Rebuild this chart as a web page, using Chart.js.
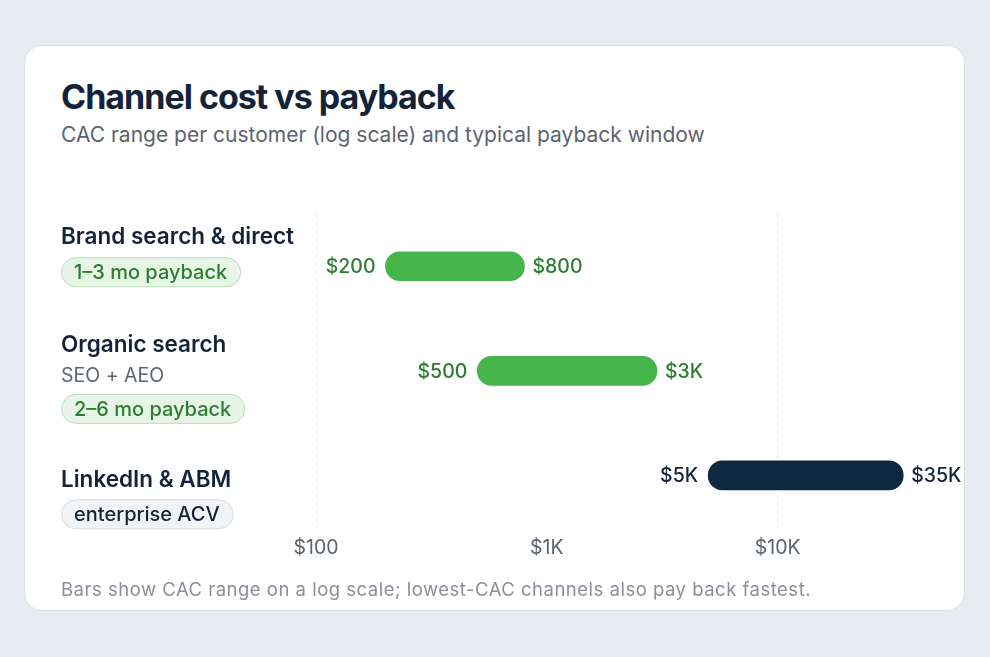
<!DOCTYPE html>
<html>
<head>
<meta charset="utf-8">
<script src="https://cdn.jsdelivr.net/npm/chart.js@4"></script>
<style>
  body { margin: 0; background: #e8ecf0; font-family: Inter, "Noto Sans", sans-serif; }
  .card { position: absolute; left: 24px; top: 45px; width: 939px; height: 564px;
          background: #fff; border: 1px solid #dde2e8; border-radius: 18px; }
  h1 { position: absolute; left: 36px; top: 30px; margin: 0; font-size: 34px; font-weight: 700;
       letter-spacing: -1px; color: #13233a; }
  .sub { position: absolute; left: 36px; top: 76px; font-size: 21px; color: #5b6470; }
  .foot { position: absolute; left: 36px; top: 532px; font-size: 18.5px; letter-spacing: 0.5px; color: #8a9099; }
  .wrap { position: absolute; left: 0; top: 125px; width: 941px; height: 415px; }
</style>
</head>
<body>
<div class="card">
  <h1>Channel cost vs payback</h1>
  <div class="sub">CAC range per customer (log scale) and typical payback window</div>
  <div class="wrap"><canvas id="chart"></canvas></div>
  <div class="foot">Bars show CAC range on a log scale; lowest-CAC channels also pay back fastest.</div>
</div>
<script>
// data
const channels = ['Brand search & direct', 'Organic search', 'LinkedIn & ABM'];
const cacLow = [200, 500, 5000];
const cacHigh = [800, 3000, 35000];
const channelNotes = ['', 'SEO + AEO', ''];
const paybackLabels = ['1–3 mo payback', '2–6 mo payback', 'enterprise ACV'];
const tickValues = [100, 1000, 10000];
const gridValues = [100, 10000];

const GREEN = '#45b54a', GREEN_TXT = '#2f7d32', NAVY = '#0f2842', INK = '#13233a';
const barColors = [GREEN, GREEN, NAVY];
const labelColors = [GREEN_TXT, GREEN_TXT, INK];
const pillKinds = ['green', 'green', 'gray'];
// vertical offsets of the left-hand text lines, relative to each bar centre
const rowLayout = [
  { name: -29, pill: 6 },
  { name: -26, note: 5, pill: 38 },
  { name: 5, pill: 39 }
];

function money(v) {
  return v >= 1000 ? '$' + (v / 1000) + 'K' : '$' + v;
}

function roundRect(ctx, x, y, w, h, r) {
  ctx.beginPath();
  ctx.moveTo(x + r, y);
  ctx.arcTo(x + w, y, x + w, y + h, r);
  ctx.arcTo(x + w, y + h, x, y + h, r);
  ctx.arcTo(x, y + h, x, y, r);
  ctx.arcTo(x, y, x + w, y, r);
  ctx.closePath();
}

const sidePlugin = {
  id: 'sideLabels',
  afterDatasetsDraw(chart) {
    const ctx = chart.ctx;
    const meta = chart.getDatasetMeta(0);
    ctx.save();
    ctx.textBaseline = 'middle';
    meta.data.forEach((bar, i) => {
      const cy = bar.y;
      // values at bar ends
      ctx.font = '500 19.5px Inter, sans-serif';
      ctx.fillStyle = labelColors[i];
      ctx.textAlign = 'right';
      ctx.fillText(money(cacLow[i]), bar.base - 10, cy + 1);
      ctx.textAlign = 'left';
      ctx.fillText(money(cacHigh[i]), bar.x + 8, cy + 1);

      const lay = rowLayout[i];
      const x0 = 36;
      ctx.textAlign = 'left';
      ctx.font = '600 22.5px Inter, sans-serif';
      ctx.fillStyle = INK;
      ctx.fillText(channels[i], x0, cy + lay.name);
      if (channelNotes[i]) {
        ctx.font = '400 19.5px Inter, sans-serif';
        ctx.fillStyle = '#5b6470';
        ctx.fillText(channelNotes[i], x0, cy + lay.note);
      }
      ctx.font = '500 20px Inter, sans-serif';
      const tw = ctx.measureText(paybackLabels[i]).width;
      const green = pillKinds[i] === 'green';
      roundRect(ctx, x0 + 0.5, cy + lay.pill - 14.5, tw + 26, 29, 14.5);
      ctx.fillStyle = green ? '#e7f5e7' : '#f1f4f7';
      ctx.fill();
      ctx.lineWidth = 1;
      ctx.strokeStyle = green ? '#b8dcb9' : '#d3d9e0';
      ctx.stroke();
      ctx.fillStyle = green ? GREEN_TXT : INK;
      ctx.fillText(paybackLabels[i], x0 + 13, cy + lay.pill + 1);
    });
    ctx.restore();
  }
};

new Chart(document.getElementById('chart'), {
  type: 'bar',
  data: {
    labels: channels,
    datasets: [{
      data: cacLow.map((lo, i) => [lo, cacHigh[i]]),
      backgroundColor: barColors,
      borderRadius: 15,
      borderSkipped: false,
      barThickness: 29
    }]
  },
  options: {
    indexAxis: 'y',
    responsive: true,
    maintainAspectRatio: false,
    animation: false,
    layout: { padding: { left: 291, right: 27, top: 43, bottom: 17 } },
    plugins: { legend: { display: false }, tooltip: { enabled: false } },
    scales: {
      y: { display: false },
      x: {
        type: 'logarithmic',
        min: 100,
        max: 50000,
        afterBuildTicks(axis) { axis.ticks = tickValues.map(v => ({ value: v })); },
        grid: {
          drawTicks: false,
          color: ctx => gridValues.includes(ctx.tick && ctx.tick.value) ? '#e3e6ea' : 'rgba(0,0,0,0)',
          lineWidth: 1
        },
        border: { display: false, dash: [4, 4] },
        ticks: {
          padding: 9,
          color: '#5b6470',
          font: { family: 'Inter, sans-serif', size: 19.5 },
          callback: v => money(v)
        }
      }
    }
  },
  plugins: [sidePlugin]
});
</script>
</body>
</html>
